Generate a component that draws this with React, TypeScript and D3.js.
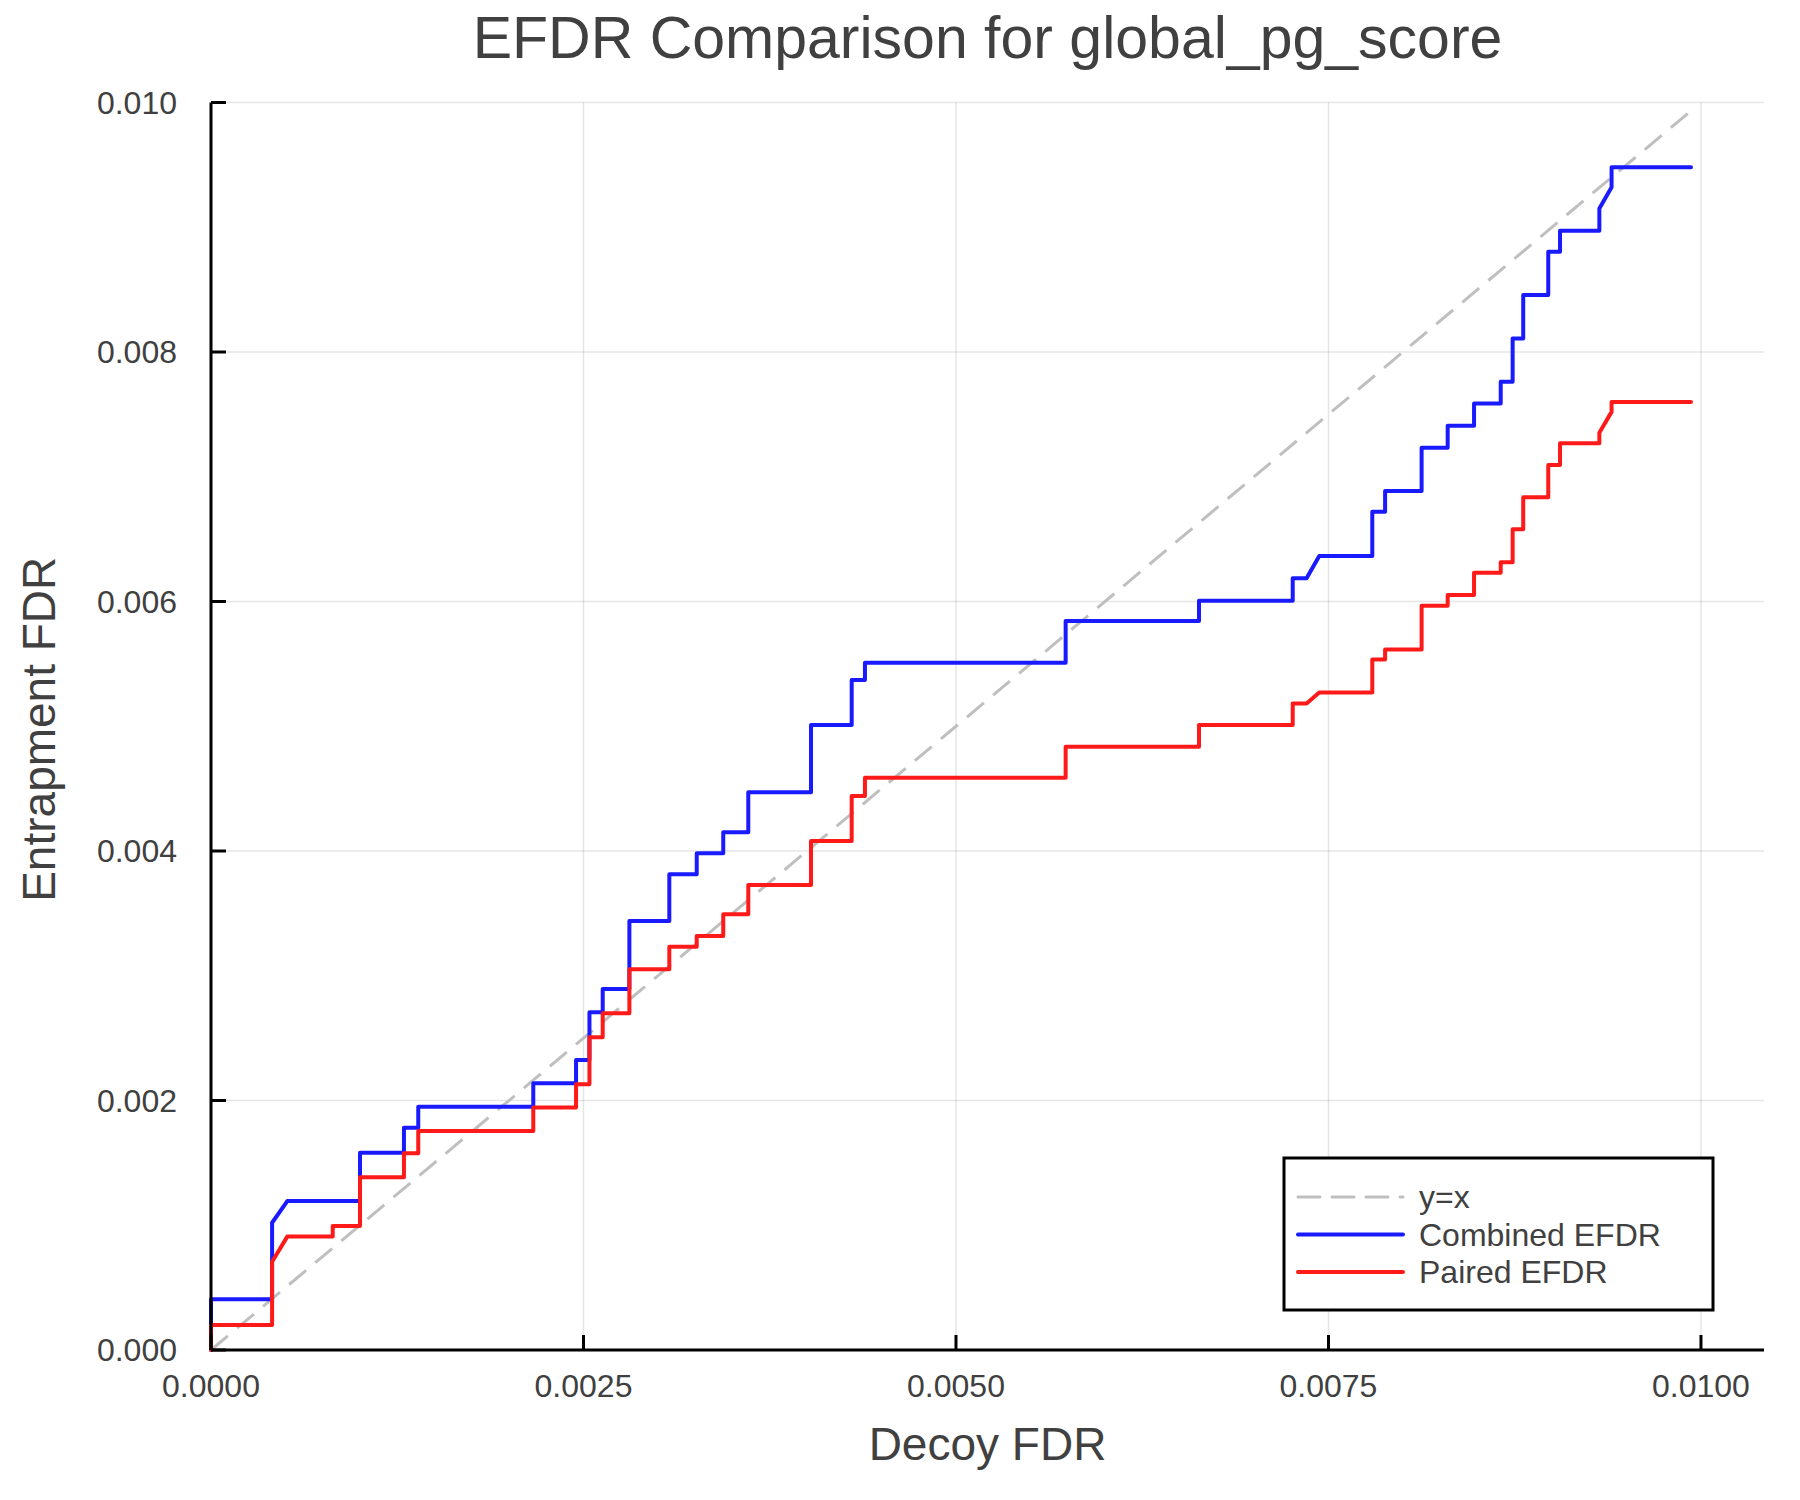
import * as d3 from "d3";
import { useEffect, useRef } from "react";

// Decoy FDR (x) and entrapment FDR (y) of each point of the two EFDR curves.
const combinedX = [
  0, 0, 0.00041, 0.00041, 0.000512, 0.001, 0.001, 0.001295, 0.001295,
  0.001391, 0.001391, 0.002163, 0.002163, 0.00245, 0.00245, 0.00254, 0.00254,
  0.002629, 0.002629, 0.002808, 0.002808, 0.003076, 0.003076, 0.00326,
  0.00326, 0.003438, 0.003438, 0.003606, 0.003606, 0.004027, 0.004027,
  0.0043, 0.0043, 0.004389, 0.004389, 0.005736, 0.005736, 0.006631, 0.006631,
  0.00726, 0.00726, 0.007353, 0.007438, 0.007794, 0.007794, 0.00788, 0.00788,
  0.008125, 0.008125, 0.0083, 0.0083, 0.008477, 0.008477, 0.008656, 0.008656,
  0.008736, 0.008736, 0.008807, 0.008807, 0.008975, 0.008975, 0.009054,
  0.009054, 0.009318, 0.009318, 0.0094, 0.0094, 0.009933,
];
const combinedY = [
  0, 0.000406, 0.000406, 0.00102, 0.001194, 0.001194, 0.001582, 0.001582,
  0.001782, 0.001782, 0.00195, 0.00195, 0.002138, 0.002138, 0.002325,
  0.002325, 0.002707, 0.002707, 0.002894, 0.002894, 0.003439, 0.003439,
  0.003813, 0.003813, 0.003981, 0.003981, 0.00415, 0.00415, 0.00447, 0.00447,
  0.00501, 0.00501, 0.00537, 0.00537, 0.00551, 0.00551, 0.005844, 0.005844,
  0.006007, 0.006007, 0.006186, 0.006186, 0.006365, 0.006365, 0.00672,
  0.00672, 0.006886, 0.006886, 0.007233, 0.007233, 0.007409, 0.007409,
  0.007588, 0.007588, 0.007762, 0.007762, 0.008109, 0.008109, 0.008457,
  0.008457, 0.008804, 0.008804, 0.008972, 0.008972, 0.009151, 0.00932,
  0.00948, 0.00948,
];

const pairedX = [
  0, 0, 0.00041, 0.00041, 0.000512, 0.000817, 0.000817, 0.001, 0.001,
  0.001295, 0.001295, 0.001391, 0.001391, 0.002163, 0.002163, 0.00245,
  0.00245, 0.00254, 0.00254, 0.002629, 0.002629, 0.002808, 0.002808,
  0.003076, 0.003076, 0.00326, 0.00326, 0.003438, 0.003438, 0.003606,
  0.003606, 0.004027, 0.004027, 0.0043, 0.0043, 0.004389, 0.004389, 0.005736,
  0.005736, 0.006631, 0.006631, 0.00726, 0.00726, 0.007353, 0.007438,
  0.007794, 0.007794, 0.00788, 0.00788, 0.008125, 0.008125, 0.0083, 0.0083,
  0.008477, 0.008477, 0.008656, 0.008656, 0.008736, 0.008736, 0.008807,
  0.008807, 0.008975, 0.008975, 0.009054, 0.009054, 0.009318, 0.009318,
  0.0094, 0.0094, 0.009933,
];
const pairedY = [
  0, 0.0002, 0.0002, 0.000708, 0.000909, 0.000909, 0.000994, 0.000994,
  0.001384, 0.001384, 0.001577, 0.001577, 0.001756, 0.001756, 0.001943,
  0.001943, 0.00213, 0.00213, 0.002507, 0.002507, 0.0027, 0.0027, 0.003052,
  0.003052, 0.003233, 0.003233, 0.003319, 0.003319, 0.003492, 0.003492,
  0.003727, 0.003727, 0.00408, 0.00408, 0.004441, 0.004441, 0.004588,
  0.004588, 0.004836, 0.004836, 0.00501, 0.00501, 0.005183, 0.005183,
  0.005271, 0.005271, 0.005536, 0.005536, 0.005616, 0.005616, 0.005966,
  0.005966, 0.006052, 0.006052, 0.006231, 0.006231, 0.006314, 0.006314,
  0.006579, 0.006579, 0.006835, 0.006835, 0.007094, 0.007094, 0.007268,
  0.007268, 0.007353, 0.00752, 0.0076, 0.0076,
];

// y = x reference runs over the decoy FDR range
const diagonalEnds = [0, 0.00995];

const xTicks = [0, 0.0025, 0.005, 0.0075, 0.01];
const xTickLabels = ["0.0000", "0.0025", "0.0050", "0.0075", "0.0100"];
const yTicks = [0, 0.002, 0.004, 0.006, 0.008, 0.01];
const yTickLabels = ["0.000", "0.002", "0.004", "0.006", "0.008", "0.010"];

const legendLabels = ["y=x", "Combined EFDR", "Paired EFDR"];

const W = 1800;
const H = 1500;
const FONT = "'Liberation Sans', Arial, Helvetica, sans-serif";
const TEXT = "#404040";
const BLUE = "#1a1aff";
const RED = "#ff1a1a";
const DIAG = "#bfbfbf";

const App = () => {
  const svgRef = useRef<SVGSVGElement>(null);

  useEffect(() => {
    const svgEl = svgRef.current;
    if (!svgEl) return;
    const svg = d3.select(svgEl);
    svg.selectAll("*").remove();

    const plot = { left: 211, right: 1764, top: 102.5, bottom: 1350 };
    const x = d3
      .scaleLinear()
      .domain([0, 0.010423])
      .range([plot.left, plot.right]);
    const y = d3.scaleLinear().domain([0, 0.01]).range([plot.bottom, plot.top]);

    svg.append("rect").attr("width", W).attr("height", H).attr("fill", "#fff");

    // grid
    svg
      .selectAll("line.grid-x")
      .data(xTicks)
      .enter()
      .append("line")
      .attr("x1", (t) => x(t))
      .attr("x2", (t) => x(t))
      .attr("y1", plot.top)
      .attr("y2", plot.bottom)
      .attr("stroke", "#000")
      .attr("stroke-opacity", 0.1)
      .attr("stroke-width", 1.5);
    svg
      .selectAll("line.grid-y")
      .data(yTicks)
      .enter()
      .append("line")
      .attr("x1", plot.left)
      .attr("x2", plot.right)
      .attr("y1", (t) => y(t))
      .attr("y2", (t) => y(t))
      .attr("stroke", "#000")
      .attr("stroke-opacity", 0.1)
      .attr("stroke-width", 1.5);

    // series
    const line = d3
      .line<[number, number]>()
      .x((d) => x(d[0]))
      .y((d) => y(d[1]));

    svg
      .append("path")
      .attr("d", line(diagonalEnds.map((v) => [v, v] as [number, number])))
      .attr("fill", "none")
      .attr("stroke", DIAG)
      .attr("stroke-width", 3)
      .attr("stroke-dasharray", "22,12");

    const series = [
      { xs: combinedX, ys: combinedY, color: BLUE },
      { xs: pairedX, ys: pairedY, color: RED },
    ];
    series.forEach((s) => {
      const pts = s.xs.map((v, i) => [v, s.ys[i]] as [number, number]);
      svg
        .append("path")
        .attr("d", line(pts))
        .attr("fill", "none")
        .attr("stroke", s.color)
        .attr("stroke-width", 4)
        .attr("stroke-linejoin", "round")
        .attr("stroke-linecap", "round");
    });

    // axes: left + bottom spines, inward ticks
    svg
      .append("line")
      .attr("x1", plot.left)
      .attr("x2", plot.left)
      .attr("y1", plot.top)
      .attr("y2", plot.bottom)
      .attr("stroke", "#000")
      .attr("stroke-width", 3);
    svg
      .append("line")
      .attr("x1", plot.left)
      .attr("x2", plot.right)
      .attr("y1", plot.bottom)
      .attr("y2", plot.bottom)
      .attr("stroke", "#000")
      .attr("stroke-width", 3);
    svg
      .selectAll("line.tick-x")
      .data(xTicks)
      .enter()
      .append("line")
      .attr("x1", (t) => x(t))
      .attr("x2", (t) => x(t))
      .attr("y1", plot.bottom)
      .attr("y2", plot.bottom - 15)
      .attr("stroke", "#000")
      .attr("stroke-width", 3);
    svg
      .selectAll("line.tick-y")
      .data(yTicks)
      .enter()
      .append("line")
      .attr("x1", plot.left)
      .attr("x2", plot.left + 15)
      .attr("y1", (t) => y(t))
      .attr("y2", (t) => y(t))
      .attr("stroke", "#000")
      .attr("stroke-width", 3);

    svg
      .selectAll("text.tick-x")
      .data(xTicks)
      .enter()
      .append("text")
      .attr("x", (t) => x(t))
      .attr("y", 1397)
      .attr("text-anchor", "middle")
      .attr("fill", TEXT)
      .style("font", `32px ${FONT}`)
      .text((_, i) => xTickLabels[i]);
    svg
      .selectAll("text.tick-y")
      .data(yTicks)
      .enter()
      .append("text")
      .attr("x", 177)
      .attr("y", (t) => y(t))
      .attr("text-anchor", "end")
      .attr("dominant-baseline", "central")
      .attr("fill", TEXT)
      .style("font", `32px ${FONT}`)
      .text((_, i) => yTickLabels[i]);

    // titles
    const cx = (plot.left + plot.right) / 2;
    svg
      .append("text")
      .attr("x", cx)
      .attr("y", 58)
      .attr("text-anchor", "middle")
      .attr("fill", TEXT)
      .style("font", `59px ${FONT}`)
      .text("EFDR Comparison for global_pg_score");
    svg
      .append("text")
      .attr("x", cx)
      .attr("y", 1460)
      .attr("text-anchor", "middle")
      .attr("fill", TEXT)
      .style("font", `46px ${FONT}`)
      .text("Decoy FDR");
    svg
      .append("text")
      .attr(
        "transform",
        `translate(55,${(plot.top + plot.bottom) / 2 + 3}) rotate(-90)`,
      )
      .attr("text-anchor", "middle")
      .attr("fill", TEXT)
      .style("font", `46px ${FONT}`)
      .text("Entrapment FDR");

    // legend
    const lg = svg.append("g");
    lg.append("rect")
      .attr("x", 1284)
      .attr("y", 1158)
      .attr("width", 429)
      .attr("height", 152)
      .attr("fill", "#fff")
      .attr("stroke", "#000")
      .attr("stroke-width", 3);
    const legendStyles = [
      { color: DIAG, dash: "22,12", width: 3 },
      { color: BLUE, dash: null, width: 4 },
      { color: RED, dash: null, width: 4 },
    ];
    legendLabels.forEach((label, i) => {
      const ly = 1197 + i * 37.5;
      lg.append("line")
        .attr("x1", 1298)
        .attr("x2", 1403)
        .attr("y1", ly)
        .attr("y2", ly)
        .attr("stroke", legendStyles[i].color)
        .attr("stroke-width", legendStyles[i].width)
        .attr("stroke-dasharray", legendStyles[i].dash)
        .attr("stroke-linecap", "round");
      lg.append("text")
        .attr("x", 1419)
        .attr("y", ly)
        .attr("dominant-baseline", "central")
        .attr("fill", TEXT)
        .style("font", `32px ${FONT}`)
        .text(label);
    });
  }, []);

  return (
    <svg
      ref={svgRef}
      width={W}
      height={H}
      style={{ position: "absolute", left: 0, top: 0, display: "block" }}
    />
  );
};

export default App;
